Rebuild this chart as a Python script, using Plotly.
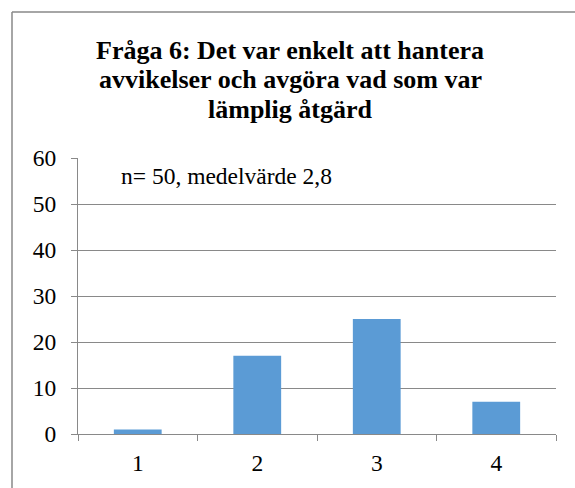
import plotly.graph_objects as go

categories = ["1", "2", "3", "4"]
values = [1, 17, 25, 7]
title_lines = ["Fråga 6: Det var enkelt att hantera",
               "avvikelser och avgöra vad som var",
               "lämplig åtgärd"]
note_text = "n= 50, medelvärde 2,8"

W, H = 575, 488
L, R, T, B = 78, 19, 158, 54
pw, ph = W - L - R, H - T - B

def px(x):
    return (x - L) / pw

def py(y):
    return (H - B - y) / ph

serif = "Liberation Serif, Times New Roman, serif"
gray = "#898989"

fig = go.Figure()
fig.add_trace(go.Bar(x=categories, y=values, marker_color="#5B9BD5",
                     marker_line_width=0))

fig.update_layout(
    width=W, height=H,
    margin=dict(l=L, r=R, t=T, b=B),
    paper_bgcolor="white", plot_bgcolor="white",
    bargap=0.6, showlegend=False,
    font=dict(family=serif, color="black", size=23),
)
fig.update_xaxes(type="category", tickson="boundaries", ticks="outside",
                 ticklen=6, tickcolor=gray, showline=True, linecolor=gray,
                 linewidth=1, showgrid=False, ticklabelstandoff=8,
                 tickfont=dict(size=23.5))
fig.update_yaxes(range=[0, 60], dtick=10, ticks="outside", ticklen=6,
                 tickcolor=gray, showline=True, linecolor=gray, linewidth=1,
                 showgrid=True, gridcolor=gray, gridwidth=1, zeroline=False,
                 ticklabelstandoff=10, tickfont=dict(size=23.5))

# title, one line per annotation to keep the tight line spacing
for i, line in enumerate(title_lines):
    fig.add_annotation(text="<b>%s</b>" % line, xref="paper", yref="paper",
                       x=px(290), y=py(50 + 29.5 * i), xanchor="center",
                       yanchor="middle", showarrow=False,
                       font=dict(family=serif, size=26))

fig.add_annotation(text=note_text, xref="paper", yref="paper",
                   x=px(119), y=py(176), xanchor="left", yanchor="middle",
                   showarrow=False, font=dict(family=serif, size=23.5))

# outer chart frame (only left and top edges are visible)
fig.add_shape(type="line", xref="paper", yref="paper",
              x0=px(12), x1=px(12), y0=py(H + 20), y1=py(12),
              line=dict(color=gray, width=1.5))
fig.add_shape(type="line", xref="paper", yref="paper",
              x0=px(12), x1=px(W + 20), y0=py(12), y1=py(12),
              line=dict(color=gray, width=1.5))

fig.write_html("out.html", config={"displayModeBar": False},
               post_script="document.body.style.margin='0';")
